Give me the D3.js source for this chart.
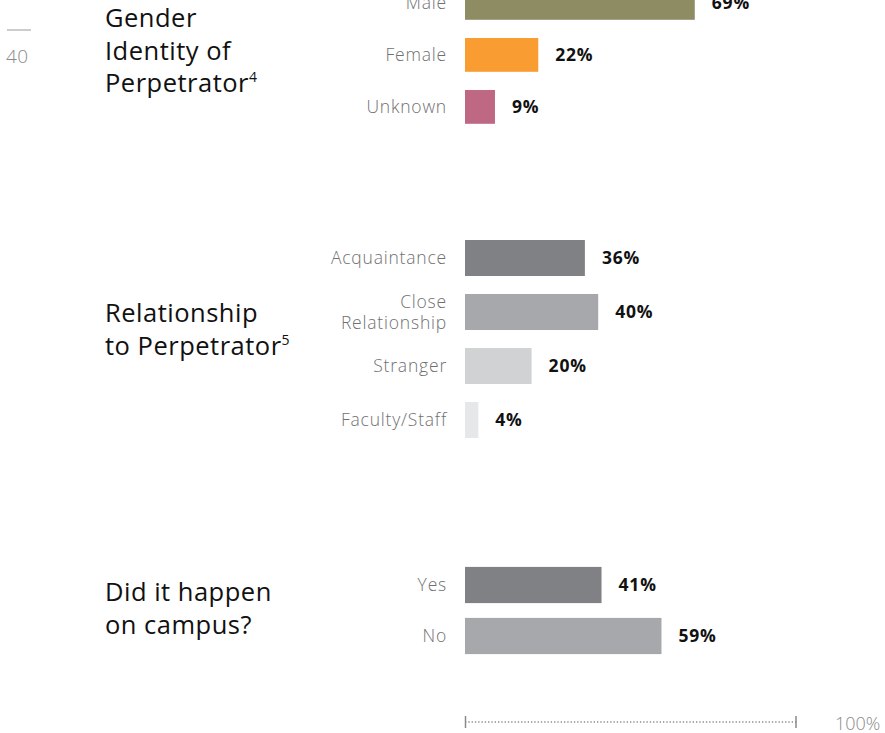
<!DOCTYPE html>
<html>
<head>
<meta charset="utf-8">
<script src="https://cdn.jsdelivr.net/npm/d3@7"></script>
<style>
  body { margin: 0; background: #fff; }
  svg { display: block; font-family: "Open Sans", "Noto Sans", sans-serif; }
</style>
</head>
<body>
<svg id="svg" width="885" height="733"></svg>
<script>

// data for the three panels
var genderCategories = ["Male", "Female", "Unknown"];
var genderValues = [69, 22, 9];

var relationCategories = ["Acquaintance", "Close\nRelationship", "Stranger", "Faculty/Staff"];
var relationValues = [36, 40, 20, 4];

var campusCategories = ["Yes", "No"];
var campusValues = [41, 59];

var axisTicks = [0, 100];

// colours in order
var genderColors = ["#8e8c62", "#f99d33", "#be6884"];
var relationColors = ["#808184", "#a7a8ab", "#d1d2d4", "#e6e7e8"];
var campusColors = ["#808184", "#a7a8ab"];

var svg = d3.select("#svg");

// shared x scale, 0..100 %
var x = d3.scaleLinear().domain([0, 100]).range([465, 798]);

// page number
svg.append("line")
  .attr("x1", 7).attr("x2", 31).attr("y1", 30).attr("y2", 30)
  .attr("stroke", "#9a9a9a").attr("stroke-width", 1);
svg.append("text")
  .attr("x", 6).attr("y", 63)
  .attr("fill", "#8a8a8a").attr("font-size", 19).attr("font-weight", 300)
  .attr("letter-spacing", 0.5)
  .text("40");

// draws one panel of bars
var panel = function( cfg )
{
  var y = d3.scaleBand()
    .domain(cfg.categories)
    .range([cfg.top, cfg.top + cfg.step * cfg.categories.length])
    .paddingInner(cfg.pad).paddingOuter(cfg.pad / 2);

  var g = svg.append("g");

  var rows = cfg.categories.map(function(c, i){
    return { cat: c, value: cfg.values[i], color: cfg.colors[i] };
  });

  g.selectAll("rect")
    .data(rows)
    .enter().append("rect")
    .attr("x", x(0))
    .attr("y", function(d){ return y(d.cat); })
    .attr("width", function(d){ return x(d.value) - x(0); })
    .attr("height", y.bandwidth())
    .attr("fill", function(d){ return d.color; });

  // value labels
  g.selectAll("text.val")
    .data(rows)
    .enter().append("text")
    .attr("class", "val")
    .attr("x", function(d){ return x(d.value) + 17; })
    .attr("y", function(d){ return y(d.cat) + y.bandwidth() / 2; })
    .attr("dy", "0.36em")
    .attr("font-size", 17.5).attr("font-weight", "bold").attr("fill", "#111")
    .attr("letter-spacing", 0.8)
    .text(function(d){ return d.value + "%"; });

  // category labels, right aligned
  g.selectAll("text.cat")
    .data(rows)
    .enter().append("text")
    .attr("class", "cat")
    .attr("text-anchor", "end")
    .attr("x", 447)
    .attr("font-size", 17.5).attr("font-weight", 300).attr("fill", "#707070")
    .attr("letter-spacing", 0.8)
    .each(function(d){
      var lines = d.cat.split("\n");
      var cy = y(d.cat) + y.bandwidth() / 2;
      var t = d3.select(this);
      lines.forEach(function(l, k){
        t.append("tspan")
          .attr("x", 447)
          .attr("y", cy + (k - (lines.length - 1) / 2) * 21.5)
          .attr("dy", "0.36em")
          .text(l);
      });
    });

  // section title
  var title = svg.append("text")
    .attr("x", 105).attr("font-size", 25.5).attr("font-weight", 400).attr("fill", "#111")
    .attr("letter-spacing", 0.5);
  cfg.title.forEach(function(l, k){
    title.append("tspan")
      .attr("x", 105)
      .attr("y", cfg.titleY + k * 32.5)
      .text(l.text);
    if (l.sup) {
      title.append("tspan")
        .attr("font-size", 14)
        .attr("dy", -10)
        .text(l.sup);
    }
  });
};

panel({
  categories: genderCategories, values: genderValues, colors: genderColors,
  top: -23.1, step: 52, pad: 0.35,
  title: [{text: "Gender"}, {text: "Identity of"}, {text: "Perpetrator", sup: "4"}],
  titleY: 27
});

panel({
  categories: relationCategories, values: relationValues, colors: relationColors,
  top: 231, step: 54, pad: 0.333,
  title: [{text: "Relationship"}, {text: "to Perpetrator", sup: "5"}],
  titleY: 322
});

panel({
  categories: campusCategories, values: campusValues, colors: campusColors,
  top: 559.5, step: 51, pad: 0.29,
  title: [{text: "Did it happen"}, {text: "on campus?"}],
  titleY: 601
});

// bottom scale bar
var axisY = 722;
svg.append("line")
  .attr("x1", x(0)).attr("x2", x(100))
  .attr("y1", axisY).attr("y2", axisY)
  .attr("stroke", "#8a8a8a").attr("stroke-width", 1.3)
  .attr("stroke-dasharray", "1.3,2");

svg.selectAll("line.tick")
  .data(axisTicks)
  .enter().append("line")
  .attr("class", "tick")
  .attr("x1", function(d){ return x(d) - (d ? 2 : -0.5); })
  .attr("x2", function(d){ return x(d) - (d ? 2 : -0.5); })
  .attr("y1", axisY - 6).attr("y2", axisY + 6)
  .attr("stroke", "#8a8a8a").attr("stroke-width", 1.5);

svg.append("text")
  .attr("x", 835).attr("y", 730)
  .attr("font-size", 18).attr("font-weight", 300).attr("fill", "#8a8a8a")
  .text(axisTicks[1] + "%");

</script>
</body>
</html>
